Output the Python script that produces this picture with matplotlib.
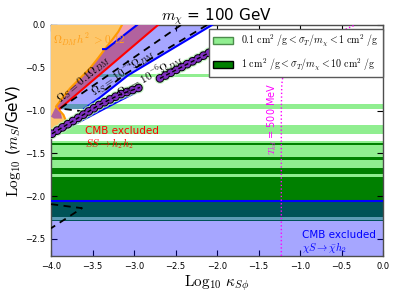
import matplotlib
matplotlib.use('Agg')
import matplotlib.pyplot as plt
from matplotlib.patches import Patch

plt.rcParams['mathtext.fontset'] = 'cm'
plt.rcParams['font.family'] = ['DejaVu Sans']

# ---------------- data ----------------
x_ticks = [-4.0, -3.5, -3.0, -2.5, -2.0, -1.5, -1.0, -0.5, 0.0]
y_ticks = [-2.5, -2.0, -1.5, -1.0, -0.5, 0.0]
x_lim = (-4.0, 0.0)
y_lim = (-2.7, 0.0)

# horizontal bands of log10 m_S
light_bands = [(-0.608, -0.576), (-0.980, -0.921), (-1.274, -1.165), (-1.385, -1.353),
               (-1.541, -1.408), (-1.667, -1.580), (-1.776, -1.738), (-2.274, -2.243)]
dark_bands = [(-1.408, -1.385), (-1.580, -1.541), (-1.738, -1.667), (-2.243, -1.776),
              (-2.294, -2.274)]

# CMB excluded (chi S -> chibar h2) upper boundary
cmb_chi_top = -2.055

# relic-density region (orange)
orange_x = [-4.0, -3.145, -3.19, -3.265, -3.361, -3.434, -3.53, -3.651, -3.771, -3.867, -3.94,
            -3.85, -3.82, -3.988, -4.0]
orange_y = [0.0, 0.0, -0.08, -0.176, -0.294, -0.388, -0.506, -0.624, -0.741, -0.859, -0.953,
            -1.05, -1.12, -1.271, -1.271]
orange_edge_x = [-3.145, -3.19, -3.265, -3.361, -3.434, -3.53, -3.651, -3.771, -3.867, -3.94,
                 -3.85, -3.82, -3.988]
orange_edge_y = [0.0, -0.08, -0.176, -0.294, -0.388, -0.506, -0.624, -0.741, -0.859, -0.953,
                 -1.05, -1.12, -1.271]

# pink wedge
pink_x = [-3.145, -3.19, -3.265, -3.355, -3.337, -2.964]
pink_y = [0.0, -0.08, -0.176, -0.285, -0.282, 0.0]

# purple region (Omega_S > 0.1 Omega_DM)
purple_x = [-2.964, -2.711, -3.892, -3.867, -3.964, -4.0, -3.94, -3.867, -3.771, -3.651,
            -3.53, -3.434, -3.361, -3.337]
purple_y = [0.0, 0.0, -0.976, -1.094, -1.094, -1.071, -0.953, -0.859, -0.741, -0.624,
            -0.506, -0.388, -0.294, -0.282]

# boundary lines
blue_up_x = [-2.964, -3.337, -3.373]
blue_up_y = [0.0, -0.282, -0.282]
red_x = [-2.711, -3.892]
red_y = [0.0, -0.976]
blue_low_x = [-2.06, -3.072, -3.41, -3.60]
blue_low_y = [0.0, -0.588, -0.847, -0.98]
blue_bot_x = [-3.976, -3.169, -2.928]
blue_bot_y = [-1.294, -0.882, -0.765]

# lavender region between red line and lower blue line
lav_x = [-2.711, -2.06, -3.072, -3.41, -3.60, -3.892]
lav_y = [0.0, 0.0, -0.588, -0.847, -0.98, -0.99]

# dashed contours
dash1_x = [-2.434, -3.892, -3.494]
dash1_y = [0.0, -0.976, -1.024]
dash2_x = [-2.12, -3.10, -3.40]
dash2_y = [0.0, -0.57, -0.80]
dash3_x = [-4.0, -3.627, -4.0]
dash3_y = [-2.094, -2.141, -2.376]

# resonance chains
chain1_x = [-3.988, -3.687, -3.41, -3.169, -2.928]
chain1_y = [-1.271, -1.094, -0.929, -0.812, -0.729]
chain2_x = [-2.687, -2.084]
chain2_y = [-0.624, -0.318]

# T_kd = 500 MeV line
tkd_x = [-1.225, -1.225, -1.22, -1.20, -1.10, -0.80, -0.337]
tkd_y = [-2.7, -1.0, -0.7, -0.55, -0.40, -0.20, 0.0]

legend_labels = [r'$0.1\ \mathrm{cm}^2\ /\mathrm{g}<\sigma_T/m_\chi<1\ \mathrm{cm}^2\ /\mathrm{g}$',
                 r'$1\ \mathrm{cm}^2\ /\mathrm{g}<\sigma_T/m_\chi<10\ \mathrm{cm}^2\ /\mathrm{g}$']

# ---------------- plot ----------------
fig = plt.figure(figsize=(3.99, 3.01), dpi=100)
ax = fig.add_axes([51/399, 1-256/301, 332/399, 231/301])

LG = '#90ee90'
DG = '#008000'
for lo, hi in light_bands:
    ax.axhspan(lo, hi, color=LG, lw=0, zorder=1)
for lo, hi in dark_bands:
    ax.axhspan(lo, hi, color=DG, lw=0, zorder=1)

ax.axhspan(y_lim[0], cmb_chi_top, color='blue', alpha=0.35, lw=0, zorder=2)
ax.axhline(cmb_chi_top, color='blue', lw=1.5, zorder=3)

ax.fill(lav_x, lav_y, color='blue', alpha=0.35, lw=0, zorder=2)
ax.fill(chain1_x + blue_bot_x[::-1], chain1_y + blue_bot_y[::-1], color='blue', alpha=0.35, lw=0, zorder=2)
ax.fill(orange_x, orange_y, color='#fdc76c', lw=0, zorder=3)
ax.fill(pink_x, pink_y, color='#f2a2b2', lw=0, zorder=3)
ax.fill(purple_x, purple_y, color='#b2629e', lw=0, zorder=3)

ax.plot(orange_edge_x, orange_edge_y, color='#ff9900', lw=1.5, zorder=4)
ax.plot(blue_up_x, blue_up_y, color='blue', lw=1.5, zorder=4)
ax.plot(red_x, red_y, color='red', lw=1.5, zorder=4)
ax.plot(blue_low_x, blue_low_y, color='blue', lw=1.5, zorder=4)
ax.plot(blue_bot_x, blue_bot_y, color='blue', lw=1.5, zorder=4)

for dx, dy in [(dash1_x, dash1_y), (dash2_x, dash2_y), (dash3_x, dash3_y)]:
    ax.plot(dx, dy, color='black', lw=1.3, ls=(0, (4, 3)), zorder=5)

PUR = '#7e2fc0'
for cx, cy in [(chain1_x, chain1_y), (chain2_x, chain2_y)]:
    ax.plot(cx, cy, color='#b8f0b8', lw=8.0, ls=(0, (0.001, 0.7 * 6.3 / 8.0)),
            dash_capstyle='round', zorder=5, alpha=0.8)
    ax.plot(cx, cy, color='black', lw=6.3, ls=(0, (0.001, 0.7)),
            dash_capstyle='round', zorder=5)
    ax.plot(cx, cy, color=PUR, lw=4.9, ls=(0, (0.001, 0.7 * 6.3 / 4.9)),
            dash_capstyle='round', zorder=5)
    ax.plot(cx, cy, color='black', lw=1.0, ls=(0, (3, 2)), zorder=6)

ax.plot(tkd_x, tkd_y, color='magenta', lw=1.0, ls=':', zorder=4)
ax.text(-1.337, -1.10, r'$T_{kd}$ = 500 MeV', color='magenta', fontsize=7,
        rotation=90, ha='center', va='center', zorder=6)

ax.text(-3.98, -0.176, r'$\Omega_{DM}h^2\ >0.12$', color='#ff9f1a', fontsize=8,
        ha='left', va='center', zorder=6)
ax.text(-3.60, -0.64, r'$\Omega_S=0.1\Omega_{DM}$', fontsize=8, rotation=40,
        ha='center', va='center', zorder=6)
ax.text(-3.133, -0.553, r'$\Omega_S=10^{-4}\Omega_{DM}$', fontsize=8, rotation=34,
        ha='center', va='center', zorder=6)
ax.text(-2.807, -0.60, r'$\Omega_S=10^{-6}\Omega_{DM}$', fontsize=8, rotation=29,
        ha='center', va='center', zorder=6)

ax.text(-3.59, -1.24, 'CMB excluded', color='red', fontsize=7.5, ha='left', va='center', zorder=6)
ax.text(-3.59, -1.39, r'$SS\to h_2h_2$', color='red', fontsize=7.5, ha='left', va='center', zorder=6)
ax.text(-0.976, -2.45, 'CMB excluded', color='blue', fontsize=7.5, ha='left', va='center', zorder=6)
ax.text(-0.976, -2.60, r'$\chi S\to \bar{\chi} h_2$', color='blue', fontsize=7.5, ha='left', va='center', zorder=6)

handles = [Patch(facecolor=LG, edgecolor='#4c8c4c', label=legend_labels[0]),
           Patch(facecolor=DG, edgecolor='black', label=legend_labels[1])]
leg = ax.legend(handles=handles, loc='upper right', bbox_to_anchor=(1.0, 0.983),
                borderaxespad=0, fontsize=7.2, fancybox=False, framealpha=1,
                edgecolor='0.35', labelspacing=0.75)
leg.set_zorder(10)
leg.get_frame().set_linewidth(1.0)

ax.set_xlim(*x_lim)
ax.set_ylim(*y_lim)
ax.set_xticks(x_ticks)
ax.set_yticks(y_ticks)
ax.set_xticklabels([f'{v:.1f}'.replace('-', '\u2212') for v in x_ticks])
ax.set_yticklabels([f'{v:.1f}'.replace('-', '\u2212') for v in y_ticks])
ax.tick_params(direction='in', top=True, right=True, labelsize=6, length=4, width=0.8, pad=4)
for s in ax.spines.values():
    s.set_color('0.3')
    s.set_linewidth(1.0)

ax.set_xlabel(r'$\mathrm{Log}_{10}\ \kappa_{S\phi}$', fontsize=11, labelpad=2)
ax.set_ylabel(r'$\mathrm{Log}_{10}$ ($m_S$/GeV)', fontsize=11, labelpad=2)
ax.set_title(r'$m_\chi$ = 100 GeV', fontsize=11, pad=3)

fig.savefig('out.png', dpi=100)
